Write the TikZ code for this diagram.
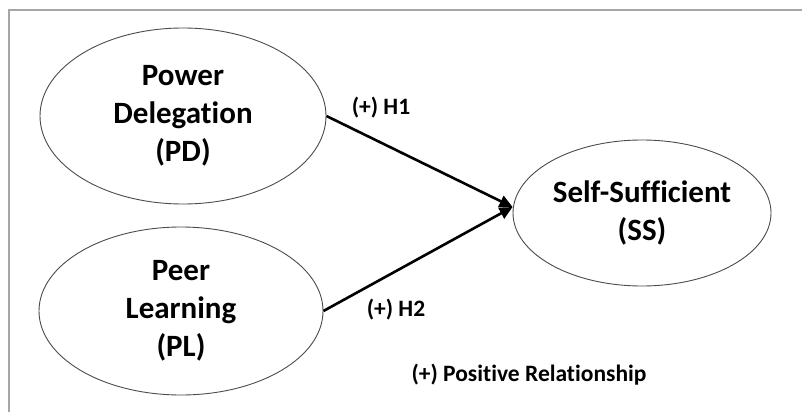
\documentclass[tikz,border=0pt]{standalone}
\usepackage{fontspec}
\setmainfont[Ligatures=NoCommon]{Carlito}
\usetikzlibrary{shapes.geometric,arrows.meta}
\tikzset{
  construct/.style={ellipse, draw=black!70, line width=0.9pt, inner sep=0pt, align=center,
    font=\bfseries\fontsize{31}{38}\selectfont},
  pathlink/.style={line width=2.6pt, -{Triangle[length=13pt,width=12pt]}},
  hyplabel/.style={font=\bfseries\fontsize{23.5}{28}\selectfont, inner sep=0pt},
  framefill/.style={draw=black!35, line width=2pt}
}
\begin{document}
\begin{tikzpicture}[x=1pt,y=-1pt]
\useasboundingbox[fill=white] (0,0) rectangle (802,412);
\draw[framefill] (9,412) -- (9,10) -- (802,10);
\node[construct, minimum width=286pt, minimum height=176pt] (pd) at (183,116) {Power\\Delegation\\(PD)};
\node[construct, minimum width=284pt, minimum height=168pt] (pl) at (181,311) {Peer\\Learning\\(PL)};
\node[construct, minimum width=258pt, minimum height=146pt] (ss) at (642,213) {Self-Sufficient\\(SS)};
\coordinate (tip) at ([yshift=6pt]ss.west);
\draw[pathlink] (pd.east) -- (tip);
\draw[pathlink] (pl.east) -- (tip);
\node[hyplabel] (h1) at (381,108) {(+) H1};
\node[hyplabel] (h2) at (396,310) {(+) H2};
\node[hyplabel] (legend) at (529,375) {(+) Positive Relationship};
\end{tikzpicture}
\end{document}
